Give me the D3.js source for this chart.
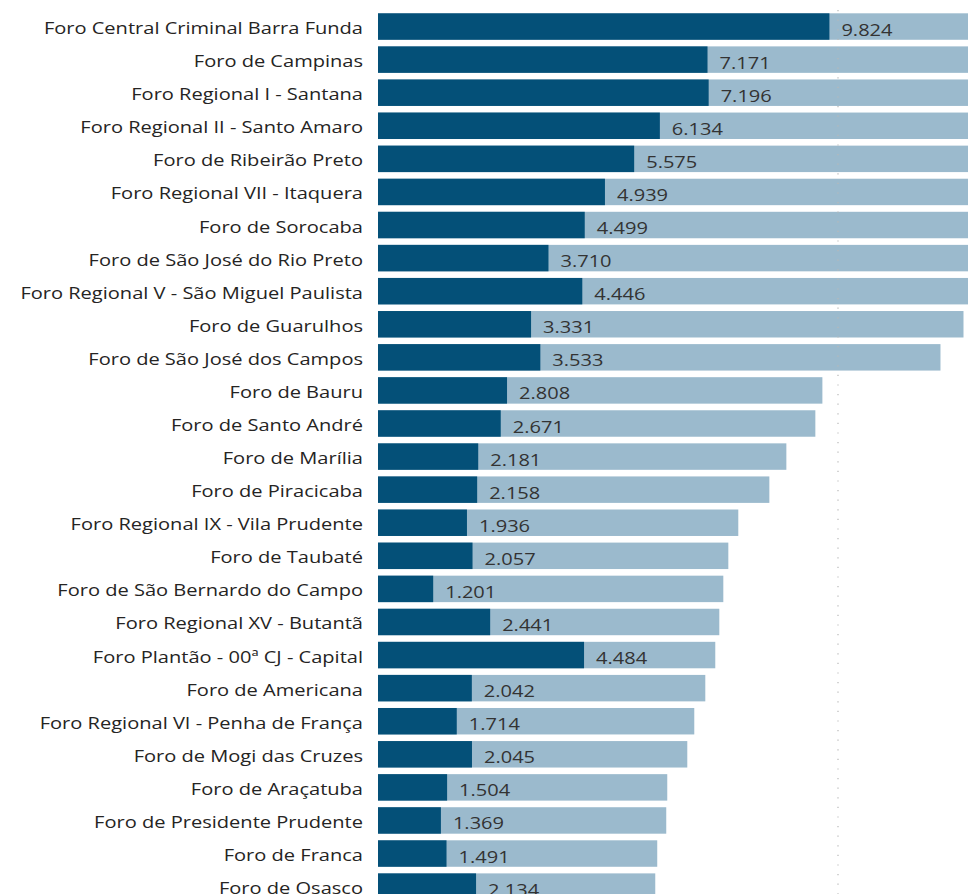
<!DOCTYPE html>
<html>
<head>
<meta charset="utf-8">
<script src="https://cdn.jsdelivr.net/npm/d3@7"></script>
<style>
  body { margin: 0; background: #fff; }
  .cat_labels { font-family: "Open Sans", sans-serif; font-size: 17px; fill: #252423; text-anchor: end; }
  .data_labels { font-family: "Open Sans", sans-serif; font-size: 17px; fill: #333; text-anchor: start; }
</style>
</head>
<body>
<svg id="svg-foros" width="968" height="894"></svg>
<script>
var foros = ["Foro Central Criminal Barra Funda", "Foro de Campinas", "Foro Regional I - Santana",
  "Foro Regional II - Santo Amaro", "Foro de Ribeirão Preto", "Foro Regional VII - Itaquera",
  "Foro de Sorocaba", "Foro de São José do Rio Preto", "Foro Regional V - São Miguel Paulista",
  "Foro de Guarulhos", "Foro de São José dos Campos", "Foro de Bauru", "Foro de Santo André",
  "Foro de Marília", "Foro de Piracicaba", "Foro Regional IX - Vila Prudente", "Foro de Taubaté",
  "Foro de São Bernardo do Campo", "Foro Regional XV - Butantã", "Foro Plantão - 00ª CJ - Capital",
  "Foro de Americana", "Foro Regional VI - Penha de França", "Foro de Mogi das Cruzes",
  "Foro de Araçatuba", "Foro de Presidente Prudente", "Foro de Franca", "Foro de Osasco"];
var valores = [9824, 7171, 7196, 6134, 5575, 4939, 4499, 3710, 4446, 3331, 3533, 2808, 2671,
  2181, 2158, 1936, 2057, 1201, 2441, 4484, 2042, 1714, 2045, 1504, 1369, 1491, 2134];
// light bars (totals); first nine run past the right edge, so only rough guesses
var totais = [20500, 19800, 18900, 16500, 15400, 14800, 14200, 13600, 13100, 12742, 12241,
  9671, 9518, 8887, 8517, 7841, 7624, 7515, 7428, 7340, 7123, 6883, 6731, 6295, 6273, 6077, 6034];
var gridValues = [10000];

var dark = "#045078";
var light = "#9bbacd";

var svg = d3.select("#svg-foros");
var x0 = 378;
var step = 33.08;
var stretch = 1.18; // reference text is drawn wider than Open Sans

var xScale = d3.scaleLinear()
  .domain([0, 10000])
  .range([x0, 837.5]);
var yScale = d3.scaleBand()
  .domain(foros)
  .range([10, 10 + step * foros.length])
  .paddingInner(0.2)
  .paddingOuter(0.1);

var fmt = d3.formatLocale({decimal: ",", thousands: ".", grouping: [3], currency: ["R$", ""]}).format(",d");

var dataset = foros.map(function(f, i) {
  return {foro: f, valor: valores[i], total: totais[i]};
});

svg.selectAll("totalBars")
  .data(dataset)
  .enter()
  .append("rect")
  .attr("x", xScale(0))
  .attr("y", function(d) { return yScale(d.foro); })
  .attr("width", function(d) { return xScale(d.total) - xScale(0); })
  .attr("height", yScale.bandwidth())
  .style("fill", light);

svg.selectAll("valueBars")
  .data(dataset)
  .enter()
  .append("rect")
  .attr("x", xScale(0))
  .attr("y", function(d) { return yScale(d.foro); })
  .attr("width", function(d) { return xScale(d.valor) - xScale(0); })
  .attr("height", yScale.bandwidth())
  .style("fill", dark);

// dotted gridline
svg.append("g")
  .attr("transform", "translate(0,10)")
  .call(d3.axisBottom(xScale).tickValues(gridValues).tickSize(900).tickFormat(""))
  .call(function(g) {
    g.select(".domain").remove();
    g.selectAll(".tick line")
      .attr("stroke", "#b8b8b8")
      .attr("stroke-width", 1.2)
      .attr("stroke-dasharray", "1.2,8.4");
  });

svg.selectAll("catLabels")
  .data(dataset)
  .enter()
  .append("text")
  .attr("class", "cat_labels")
  .attr("transform", function(d) {
    var y = yScale(d.foro) + yScale.bandwidth() / 2 + 7.5;
    return "translate(" + (x0 - 15) + "," + y + ") scale(" + stretch + ",1)";
  })
  .text(function(d) { return d.foro; });

svg.selectAll("valLabels")
  .data(dataset)
  .enter()
  .append("text")
  .attr("class", "data_labels")
  .attr("transform", function(d) {
    var y = yScale(d.foro) + yScale.bandwidth() / 2 + 9;
    return "translate(" + (xScale(d.valor) + 12) + "," + y + ") scale(" + stretch + ",1)";
  })
  .text(function(d) { return fmt(d.valor); });
</script>
</body>
</html>
